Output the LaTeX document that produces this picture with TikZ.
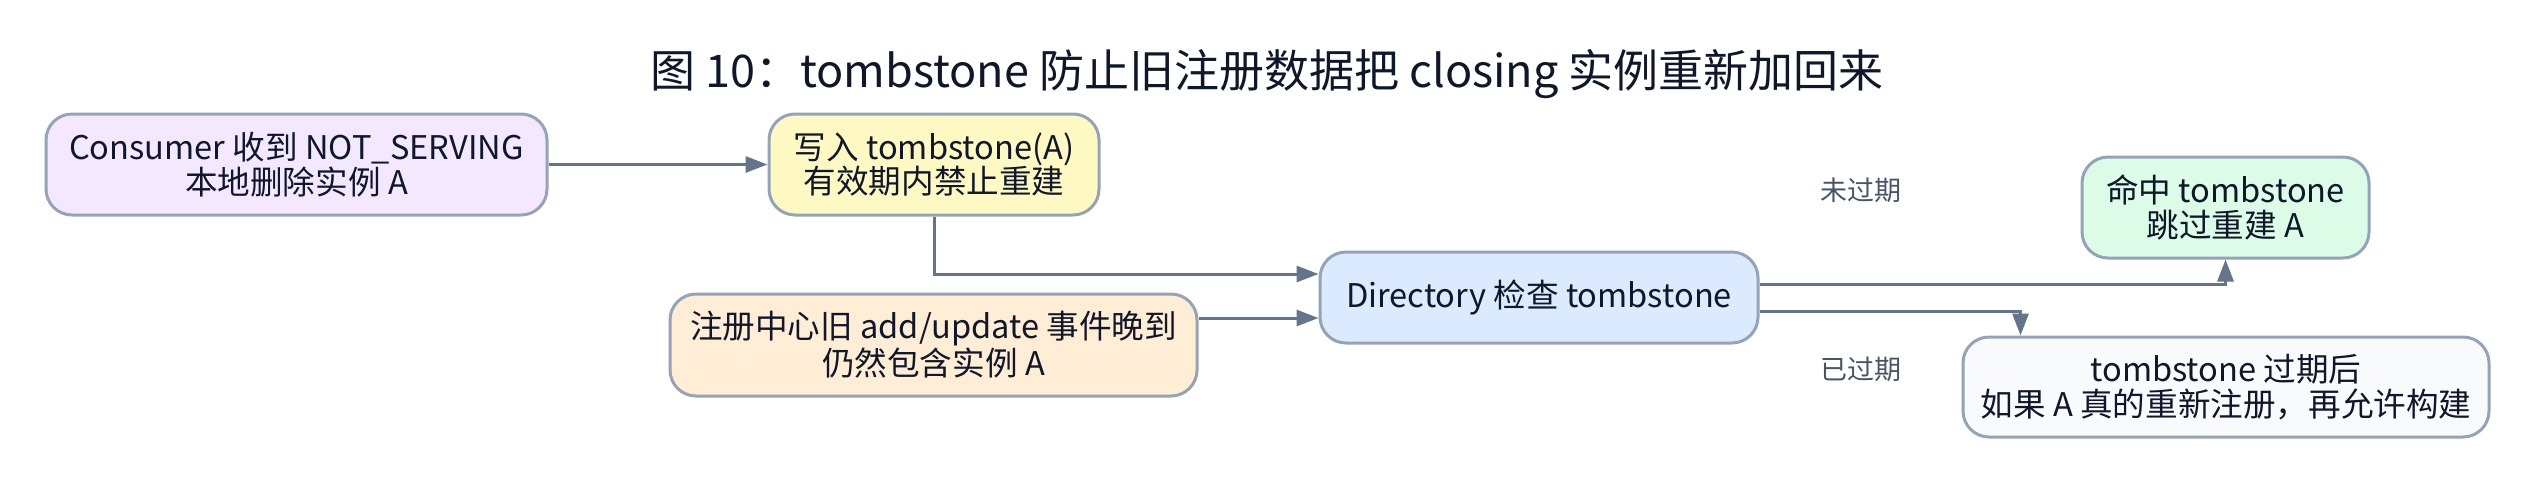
\documentclass[tikz,border=0pt]{standalone}
\usepackage{fontspec}
\setmainfont{Noto Sans CJK SC}
\usetikzlibrary{arrows.meta,calc}
\definecolor{bordc}{HTML}{94A3B8}
\definecolor{arrc}{HTML}{64748B}
\definecolor{txtc}{HTML}{0F172A}
\definecolor{lblc}{HTML}{475569}
\definecolor{fpurple}{HTML}{F3E8FF}
\definecolor{fyellow}{HTML}{FEF9C3}
\definecolor{fblue}{HTML}{DBEAFE}
\definecolor{forange}{HTML}{FFEDD5}
\definecolor{fgreen}{HTML}{DCFCE7}
\definecolor{fslate}{HTML}{F8FAFC}
\tikzset{
  box/.style={draw=bordc, line width=1.5pt, rounded corners=13pt, align=center,
    inner sep=0pt, text=txtc, font=\fontsize{16.3}{17.3}\selectfont},
  arr/.style={draw=arrc, line width=1.5pt, -{Triangle[length=11pt,width=8pt]}},
  lbl/.style={text=lblc, font=\fontsize{13.5}{16}\selectfont},
}
\begin{document}
\begin{tikzpicture}[x=0.5pt,y=-0.5pt]
\useasboundingbox (0,0) rectangle (2535,483);
\node[text=txtc, font=\fontsize{22.5}{26}\selectfont] (title) at (1267,74) {图 10：tombstone 防止旧注册数据把 closing 实例重新加回来};
\node[box, fill=fpurple, minimum width=250.5pt, minimum height=50.5pt] (cons) at (296.5,164.5) {Consumer 收到 NOT\_SERVING\\本地删除实例 A};
\node[box, fill=fyellow, minimum width=165pt, minimum height=50.5pt] (write) at (934,164.5) {写入 tombstone(A)\\有效期内禁止重建};
\node[box, fill=fblue, minimum width=219pt, minimum height=45.5pt] (dir) at (1539,297.5) {Directory 检查 tombstone};
\node[box, fill=forange, minimum width=263.5pt, minimum height=51pt] (reg) at (933.5,345) {注册中心旧 add/update 事件晚到\\仍然包含实例 A};
\node[box, fill=fgreen, minimum width=143.5pt, minimum height=50.5pt] (hit) at (2225.5,207.5) {命中 tombstone\\跳过重建 A};
\node[box, fill=fslate, minimum width=263pt, minimum height=50pt] (exp) at (2226,387) {tombstone 过期后\\如果 A 真的重新注册，再允许构建};
\node[lbl] (l1) at (1861,190) {未过期};
\node[lbl] (l2) at (1861,369) {已过期};
\coordinate (j1) at ([yshift=11.75pt]dir.west);
\coordinate (j2) at ([yshift=-10.25pt]dir.west);
\coordinate (j3) at ([yshift=6.75pt]dir.east);
\coordinate (j4) at ([yshift=-6.75pt]dir.east);
\coordinate (e4) at ([xshift=29.5pt]exp.north west);
\draw[arr] (cons.east) -- (write.west);
\draw[arr] (write.south) |- (j1);
\draw[arr] (j2 -| reg.east) -- (j2);
\draw[arr] (j3) -| (hit.south);
\draw[arr] (j4) -| (e4);
\end{tikzpicture}
\end{document}
